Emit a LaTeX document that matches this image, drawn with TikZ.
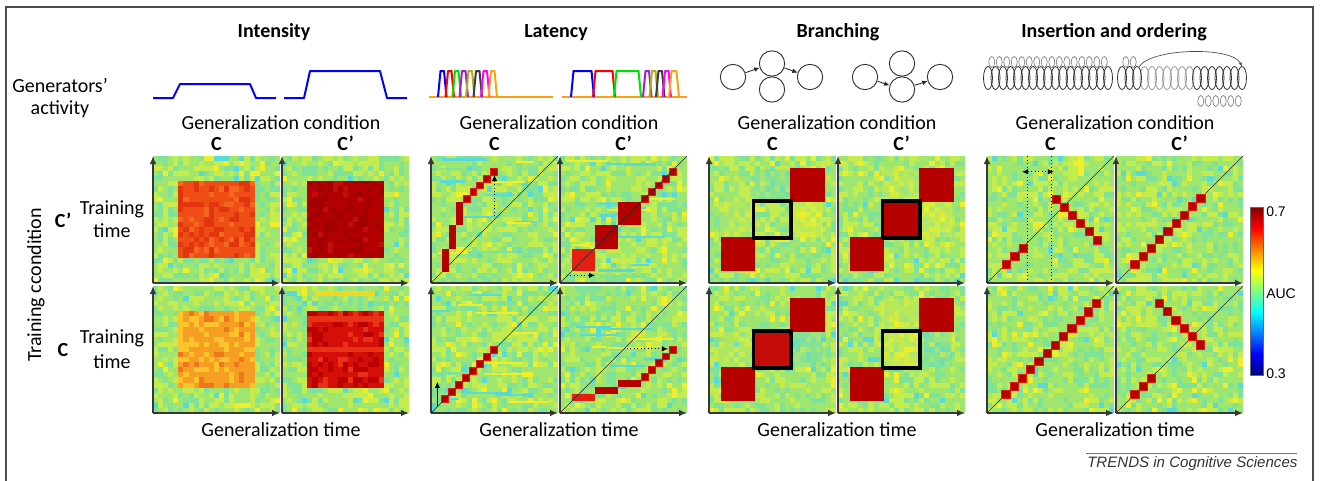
\documentclass[tikz,border=0pt]{standalone}
\usepackage{fontspec}
\setmainfont{Carlito}
\newfontfamily\arialf{Liberation Sans}
\usetikzlibrary{arrows.meta}

\definecolor{gbase}{RGB}{158,230,112}
\definecolor{gA}{RGB}{128,226,150}
\definecolor{gB}{RGB}{196,236,78}
\definecolor{gC}{RGB}{238,238,45}
\definecolor{gD}{RGB}{90,218,215}
\definecolor{dred}{RGB}{182,0,0}
\definecolor{bred}{RGB}{228,30,16}
\definecolor{edred}{RGB}{225,28,15}
\definecolor{axgray}{RGB}{55,55,55}
\definecolor{iOa}{RGB}{238,78,22}\definecolor{iOb}{RGB}{226,52,14}\definecolor{iOc}{RGB}{244,104,30}
\definecolor{iDa}{RGB}{178,0,0}\definecolor{iDb}{RGB}{162,0,0}\definecolor{iDc}{RGB}{196,12,8}
\definecolor{iYa}{RGB}{246,158,36}\definecolor{iYb}{RGB}{250,196,42}\definecolor{iYc}{RGB}{238,118,28}
\definecolor{iRa}{RGB}{214,14,10}\definecolor{iRb}{RGB}{186,0,0}\definecolor{iRc}{RGB}{232,50,22}
\definecolor{pblue}{RGB}{0,0,255}
\definecolor{pred}{RGB}{255,0,0}
\definecolor{pgreen}{RGB}{0,225,0}
\definecolor{ppurple}{RGB}{160,30,210}
\definecolor{polive}{RGB}{175,175,30}
\definecolor{pdark}{RGB}{60,60,60}
\definecolor{pmag}{RGB}{255,0,255}
\definecolor{porange}{RGB}{255,160,20}

\pgfdeclareverticalshading{jetbar}{100bp}{rgb(0bp)=(0,0,0.5); rgb(25bp)=(0,0,0.5); rgb(31.25bp)=(0,0,1); rgb(43.75bp)=(0,1,1); rgb(56.25bp)=(1,1,0); rgb(68.75bp)=(1,0,0); rgb(75bp)=(0.5,0,0); rgb(100bp)=(0.5,0,0)}

% background noise of one heat map: #1 left, #2 top (px)
\newcommand\bgnoise[2]{%
  \fill[gbase] (#1,#2) rectangle ++(127,127);
  \foreach \i in {0,...,24}{\foreach \j in {0,...,24}{%
    \pgfmathrnd\let\myr\pgfmathresult
    \ifdim\myr pt<0.22pt \def\mycol{gA}\else\ifdim\myr pt<0.50pt \def\mycol{gB}\else\ifdim\myr pt<0.55pt \def\mycol{gC}\else\ifdim\myr pt<0.575pt \def\mycol{gD}\else\def\mycol{}\fi\fi\fi\fi
    \ifx\mycol\empty\else\fill[\mycol] ({#1+\i*5.08},{#2+\j*5.08}) rectangle ++(5.08,5.08);\fi
  }}}
% horizontal streaks (latency maps)
\newcommand\streaks[2]{%
  \foreach \k in {1,...,12}{%
    \pgfmathsetmacro\sy{#2+2+rnd*120}\pgfmathsetmacro\sx{#1+rnd*85}\pgfmathsetmacro\sl{12+rnd*38}%
    \pgfmathrnd\let\myr\pgfmathresult
    \ifdim\myr pt<0.45pt\def\mycol{gD}\else\ifdim\myr pt<0.8pt\def\mycol{gC}\else\def\mycol{gA}\fi\fi
    \fill[\mycol] (\sx,\sy) rectangle ++(\sl,2.2);}}
% noisy square: #1 left, #2 top, #3 n-1, #4 cell, #5 base, #6 #7 colours
\newcommand\sqnoise[7]{%
  \fill[#5] (#1,#2) rectangle ++({(#3+1)*#4},{(#3+1)*#4});
  \foreach \i in {0,...,#3}{\foreach \j in {0,...,#3}{%
    \pgfmathrnd\let\myr\pgfmathresult
    \ifdim\myr pt<0.3pt \fill[#6] ({#1+\i*#4},{#2+\j*#4}) rectangle ++(#4,#4);%
    \else\ifdim\myr pt<0.42pt \fill[#7] ({#1+\i*#4},{#2+\j*#4}) rectangle ++(#4,#4);\fi\fi
  }}}
\newcommand\panelnode[3]{\node[pnl] (#1) at ({#2+63.5},{#3+63.5}) {};}
\newcommand\axes[1]{\draw[axis] (#1.south west) -- (#1.north west); \draw[axis] (#1.south west) -- (#1.south east);}

\begin{document}
\begin{tikzpicture}[x=0.75pt,y=-0.75pt,
  lab/.style={font=\fontsize{15}{18}\selectfont, inner sep=0pt},
  ttl/.style={font=\fontsize{15}{18}\selectfont\bfseries, inner sep=0pt},
  pnl/.style={minimum width=95.25pt, minimum height=95.25pt, inner sep=0pt, outer sep=0pt},
  axis/.style={draw=axgray, line width=1.1pt, -{Latex[length=6pt,width=5pt]}},
  diag/.style={draw=black!85, line width=0.45pt},
  dots/.style={draw=black, line width=0.6pt, dotted, -{Latex[length=4.5pt,width=4pt]}},
  trace/.style={line width=1.5pt, line join=round},
  circ/.style={circle, draw=black!80, line width=0.7pt, minimum size=19pt, inner sep=0pt},
  garr/.style={-{Latex[length=4pt,width=3.5pt]}, line width=0.6pt, draw=black!85},
  ell/.style={draw=black!80, line width=0.6pt},
  ellg/.style={draw=black!40, line width=0.6pt},
  loopst/.style={draw=black!55, line width=0.45pt},
  lc/.style={fill=dred, draw=edred, line width=0.35pt},
]
\useasboundingbox (0,0) rectangle (1324,480);
\fill[white] (0,0) rectangle (1324,480);
\pgfmathsetseed{11}

% frame
\draw[black!70, line width=1.1pt] (6,482) -- (6,7) -- (1313,7) -- (1313,482);

% ---------- titles ----------
\node[ttl, anchor=base] (t1) at (274,37.5) {Intensity};
\node[ttl, anchor=base] (t2) at (556,37.5) {Latency};
\node[ttl, anchor=base] (t3) at (838,37.5) {Branching};
\node[ttl, anchor=base] (t4) at (1114,37.5) {Insertion and ordering};

\node[lab, anchor=base] (ga1) at (60,92) {Generators’};
\node[lab, anchor=base] (ga2) at (60,114) {activity};

\foreach \g/\n in {153/1,431/2,709/3,987/4}{
  \node[lab, anchor=base] (gc\n) at (\g+128,129) {Generalization condition};
  \node[ttl, anchor=base] (cc\n) at (\g+63.5,150) {C};
  \node[ttl, anchor=base] (cp\n) at (\g+192.5,150) {C’};
  \node[lab, anchor=base] (gt\n) at (\g+128,436) {Generalization time};
}

% row labels
\node[lab, anchor=base, rotate=90] (tc) at (41,285) {Training ccondition};
\node[ttl, anchor=base] (rcp) at (63,227) {C’};
\node[lab, anchor=base] (rt1) at (112,214) {Training};
\node[lab, anchor=base] (rt2) at (112,237) {time};
\node[ttl, anchor=base] (rc) at (63,356) {C};
\node[lab, anchor=base] (rt3) at (112,343) {Training};
\node[lab, anchor=base] (rt4) at (112,368) {time};

% ---------- generators' activity ----------
% intensity
\draw[trace, pblue] (153,98) -- (173,98) -- (180,84) -- (250,84) -- (256,98) -- (276,98);
\draw[trace, pblue] (284,98) -- (304,98) -- (310,71) -- (380,71) -- (387,98) -- (407,98);
% latency
\draw[trace, porange] (429,97) -- (553,97);
\foreach \x/\c in {438/pblue,445.5/pred,452.5/pgreen,459.5/ppurple,466/polive,473.5/pdark,481/pmag,488.5/porange}
  \draw[trace, \c] (\x,97) -- ++(2.5,-26) -- ++(3.5,0) -- ++(2.5,26);
\draw[trace, porange] (562,97) -- (687,97);
\foreach \x/\w/\c in {571/18/pblue,593/17/pred,614/22/pgreen,643/3.5/ppurple,649.5/3.5/polive,656/3.5/pdark,662.5/3.5/pmag,669/5/porange}
  \draw[trace, \c] (\x,97) -- ++(2.5,-26) -- ++(\w,0) -- ++(2.5,26);
% branching
\node[circ] (ba) at (733,77) {};
\node[circ] (bb) at (772,63.5) {};
\node[circ] (bc) at (772,89.5) {};
\node[circ] (bd) at (810,77) {};
\draw[garr] (ba) -- (bb);
\draw[garr] (bb) -- (bd);
\node[circ] (bA) at (865,77) {};
\node[circ] (bB) at (902,63.5) {};
\node[circ] (bC) at (902,89.5) {};
\node[circ] (bD) at (940,77) {};
\draw[garr] (bA) -- (bC);
\draw[garr] (bC) -- (bD);
% insertion and ordering
\foreach \k in {0,...,15} \draw[loopst] (991.75+7.5*\k,62) ellipse [x radius=3, y radius=5.5];
\foreach \k in {0,...,16} \draw[ell] (988+7.5*\k,78) ellipse [x radius=4.5, y radius=11.5];
\foreach \k in {0,1} \draw[loopst] (1125.75+7.5*\k,62) ellipse [x radius=3, y radius=5.5];
\foreach \k in {0,...,5} \draw[loopst] (1200.75+7.5*\k,101) ellipse [x radius=3, y radius=5.5];
\foreach \k in {3,...,9} \draw[ellg] (1122+7.5*\k,78) ellipse [x radius=4.5, y radius=11.5];
\foreach \k in {0,1,2,10,11,12,13,14,15,16} \draw[ell] (1122+7.5*\k,78) ellipse [x radius=4.5, y radius=11.5];
\coordinate (arcA) at (1139,67);
\coordinate (arcB) at (1242,66.5);
\draw[line width=0.5pt, black!70, -{Latex[length=3pt,width=2.5pt]}] (arcA) .. controls (1150,48) and (1232,46) .. (arcB);

% ---------- heat maps: backgrounds ----------
\foreach \g in {153,431,709,987}{
  \bgnoise{\g}{156}
  \bgnoise{\g+129}{156}
  \bgnoise{\g}{286}
  \bgnoise{\g+129}{286}
}
\streaks{431}{156}\streaks{560}{156}\streaks{431}{286}\streaks{560}{286}

% panel nodes
\foreach \g/\n in {153/I,431/L,709/B,987/N}{
  \panelnode{\n1}{\g}{156}
  \panelnode{\n2}{\g+129}{156}
  \panelnode{\n3}{\g}{286}
  \panelnode{\n4}{\g+129}{286}
}

% ---------- intensity ----------
\sqnoise{178.4}{181.4}{14}{5.08}{iOa}{iOb}{iOc}
\sqnoise{307.4}{181.4}{14}{5.08}{iDa}{iDb}{iDc}
\sqnoise{178.4}{311.4}{14}{5.08}{iYa}{iYb}{iYc}
\sqnoise{307.4}{311.4}{14}{5.08}{iRa}{iRb}{iRc}
\foreach \r in {1,7} \fill[iRc] (307.4,311.4+5.08*\r) rectangle ++(76.2,5.08);
\fill[gC!80!orange] (315,291) rectangle ++(60,5);

% ---------- latency ----------
\begin{scope}[shift={(431,283)},x=95.25pt,y=95.25pt]
  \fill[dred] (0.084,0.087) rectangle (0.145,0.271);
  \fill[dred] (0.145,0.271) rectangle (0.198,0.455);
  \fill[dred] (0.198,0.455) rectangle (0.251,0.639);
  \foreach \k in {0,...,4} \filldraw[lc] ({0.251+0.0545*\k},{0.639+0.0528*\k}) rectangle ++(0.0545,0.0528);
  \draw[diag] (0,0) -- (1,1);
  \coordinate (la1) at (0.5,0.5); \coordinate (la2) at (0.5,0.85);
  \draw[dots] (la1) -- (la2);
\end{scope}
\begin{scope}[shift={(560,283)},x=95.25pt,y=95.25pt]
  \fill[bred] (0.092,0.092) rectangle (0.276,0.271);
  \fill[dred] (0.276,0.271) rectangle (0.455,0.455);
  \fill[dred] (0.455,0.455) rectangle (0.637,0.637);
  \foreach \k in {0,...,4} \filldraw[lc] ({0.637+0.055*\k},{0.637+0.053*\k}) rectangle ++(0.055,0.053);
  \draw[diag] (0,0) -- (1,1);
  \coordinate (lb1) at (0.053,0.06); \coordinate (lb2) at (0.276,0.06);
  \draw[dots] (lb1) -- (lb2);
\end{scope}
\begin{scope}[shift={(431,413)},x=95.25pt,y=95.25pt]
  \foreach \k in {0,...,7} \filldraw[lc] ({0.084+0.055*\k},{0.088+0.055*\k}) rectangle ++(0.055,0.055);
  \draw[diag] (0,0) -- (1,1);
  \coordinate (lc1) at (0.05,0.047); \coordinate (lc2) at (0.05,0.245);
  \draw[black, line width=0.6pt, -{Latex[length=4.5pt,width=4pt]}] (lc1) -- (lc2);
\end{scope}
\begin{scope}[shift={(560,413)},x=95.25pt,y=95.25pt]
  \fill[bred] (0.092,0.092) rectangle (0.276,0.153);
  \fill[dred] (0.276,0.153) rectangle (0.455,0.205);
  \fill[dred] (0.455,0.205) rectangle (0.637,0.258);
  \foreach \k in {0,...,4} \filldraw[lc] ({0.637+0.055*\k},{0.258+0.054*\k}) rectangle ++(0.055,0.054);
  \draw[diag] (0,0) -- (1,1);
  \coordinate (ld1) at (0.5,0.505); \coordinate (ld2) at (0.85,0.505);
  \draw[dots] (ld1) -- (ld2);
\end{scope}

% ---------- branching ----------
\begin{scope}[shift={(709,283)},x=95.25pt,y=95.25pt]
  \fill[gC, opacity=0.5] (0.645,0.36) rectangle (0.9,0.64);
  \fill[gC, opacity=0.25] (0.09,0.36) rectangle (0.35,0.64);
  \fill[gD, opacity=0.3] (0.35,0.645) rectangle (0.64,0.9);
  \fill[dred] (0.092,0.095) rectangle (0.363,0.363);
  \fill[dred] (0.639,0.634) rectangle (0.911,0.908);
  \draw[line width=2.4pt] (0.35,0.355) rectangle (0.645,0.645);
\end{scope}
\begin{scope}[shift={(838,283)},x=95.25pt,y=95.25pt]
  \fill[gC, opacity=0.45] (0.645,0.36) rectangle (0.9,0.64);
  \fill[gC, opacity=0.3] (0.35,0.645) rectangle (0.64,0.9);
  \fill[dred] (0.092,0.095) rectangle (0.363,0.363);
  \fill[dred] (0.639,0.634) rectangle (0.911,0.908);
  \fill[dred] (0.35,0.355) rectangle (0.645,0.645);
  \draw[line width=2.4pt] (0.35,0.355) rectangle (0.645,0.645);
\end{scope}
\begin{scope}[shift={(709,413)},x=95.25pt,y=95.25pt]
  \fill[gD, opacity=0.35] (0.645,0.36) rectangle (0.9,0.64);
  \fill[gC, opacity=0.2] (0.09,0.36) rectangle (0.35,0.64);
  \fill[dred] (0.092,0.095) rectangle (0.363,0.363);
  \fill[dred] (0.639,0.634) rectangle (0.911,0.908);
  \fill[iDc] (0.35,0.355) rectangle (0.645,0.645);
  \draw[line width=2.4pt] (0.35,0.355) rectangle (0.645,0.645);
\end{scope}
\begin{scope}[shift={(838,413)},x=95.25pt,y=95.25pt]
  \fill[gD, opacity=0.35] (0.645,0.36) rectangle (0.9,0.64);
  \fill[gC, opacity=0.45] (0.35,0.355) rectangle (0.645,0.645);
  \fill[gC, opacity=0.35] (0.35,0.645) rectangle (0.64,0.9);
  \fill[dred] (0.092,0.095) rectangle (0.363,0.363);
  \fill[dred] (0.639,0.634) rectangle (0.911,0.908);
  \draw[line width=2.4pt] (0.35,0.355) rectangle (0.645,0.645);
\end{scope}

% ---------- insertion and ordering ----------
\begin{scope}[shift={(987,283)},x=95.25pt,y=95.25pt]
  \draw[diag] (0,0) -- (1,1);
  \foreach \u/\v in {.153/.147,.218/.211,.282/.276,.545/.661,.611/.6,.674/.534,.737/.474,.805/.41,.868/.337}
    \filldraw[lc] ({\u-0.032},{\v-0.032}) rectangle ++(0.064,0.064);
  \draw[dotted, line width=0.55pt] (0.32,0) -- (0.32,1);
  \draw[dotted, line width=0.55pt] (0.505,0) -- (0.505,1);
  \coordinate (na1) at (0.276,0.876); \coordinate (na2) at (0.526,0.876);
  \draw[dotted, line width=0.6pt, {Latex[length=4.5pt,width=4pt]}-{Latex[length=4.5pt,width=4pt]}] (na1) -- (na2);
\end{scope}
\begin{scope}[shift={(1116,283)},x=95.25pt,y=95.25pt]
  \draw[diag] (0,0) -- (1,1);
  \foreach \k in {0,...,8}
    \filldraw[lc] ({0.147+0.065*\k-0.032},{0.147+0.065*\k-0.032}) rectangle ++(0.064,0.064);
\end{scope}
\begin{scope}[shift={(987,413)},x=95.25pt,y=95.25pt]
  \draw[diag] (0,0) -- (1,1);
  \foreach \k in {0,...,11}
    \filldraw[lc] ({0.147+0.065*\k-0.032},{0.147+0.065*\k-0.032}) rectangle ++(0.064,0.064);
\end{scope}
\begin{scope}[shift={(1116,413)},x=95.25pt,y=95.25pt]
  \draw[diag] (0,0) -- (1,1);
  \foreach \k in {0,1,2}
    \filldraw[lc] ({0.147+0.065*\k-0.032},{0.147+0.065*\k-0.032}) rectangle ++(0.064,0.064);
  \foreach \k in {0,...,5}
    \filldraw[lc] ({0.34+0.065*\k-0.032},{0.863-0.065*\k-0.032}) rectangle ++(0.064,0.064);
\end{scope}

% ---------- axes ----------
\foreach \n in {I,L,B,N}{
  \axes{\n1}\axes{\n2}\axes{\n3}\axes{\n4}
}

% ---------- colour bar ----------
\node[inner sep=0pt, outer sep=0pt, minimum width=9.75pt, minimum height=126pt, anchor=north west, shading=jetbar, draw=black!60, line width=0.4pt] (cbar) at (1250,207) {};
\node[font=\arialf\fontsize{10.5}{12}\selectfont, inner sep=0pt, anchor=base west] (c07) at (1266,216) {0.7};
\node[font=\arialf\fontsize{10.5}{12}\selectfont, inner sep=0pt, anchor=base west] (cauc) at (1266,298) {AUC};
\node[font=\arialf\fontsize{10.5}{12}\selectfont, inner sep=0pt, anchor=base west] (c03) at (1266,378) {0.3};

% ---------- source ----------
\draw[black!55, line width=0.5pt] (1086,453) -- (1297,453);
\node[font=\arialf\itshape\fontsize{11.3}{13}\selectfont, inner sep=0pt, anchor=base west, text=black!80] (src) at (1087,467) {TRENDS in Cognitive Sciences};
\end{tikzpicture}
\end{document}
